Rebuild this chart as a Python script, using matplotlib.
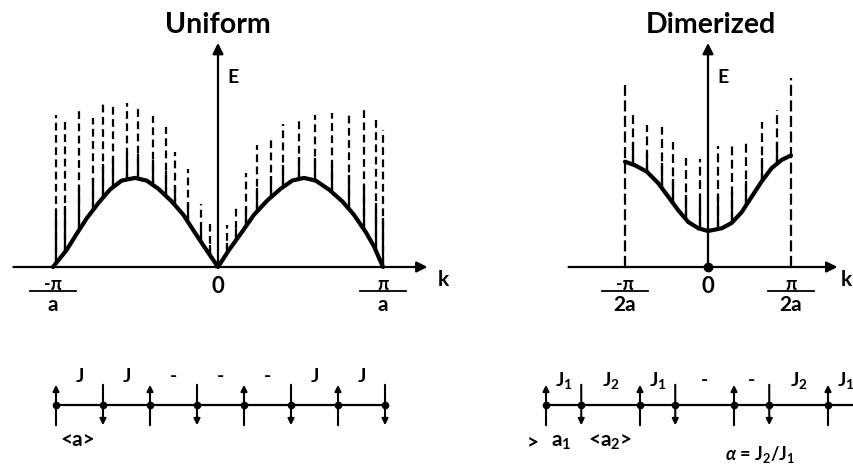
import numpy as np
import matplotlib
matplotlib.use("Agg")
import matplotlib.pyplot as plt

# ---------------- data (k in units of pi/a, E in arbitrary units) ----------------
uniform_curve_k = [-1.0, -0.917, -0.856, -0.796, -0.725, -0.655, -0.584, -0.503, -0.432,
                   -0.362, -0.281, -0.210, -0.150, -0.089, 0.0,
                   0.067, 0.138, 0.218, 0.299, 0.380, 0.450, 0.521, 0.592, 0.673,
                   0.753, 0.824, 0.895, 0.945, 1.0]
uniform_curve_E = [0.0, 0.19, 0.37, 0.54, 0.71, 0.86, 0.96, 0.99, 0.96,
                   0.87, 0.73, 0.58, 0.41, 0.24, 0.0,
                   0.19, 0.37, 0.58, 0.74, 0.87, 0.96, 0.99, 0.96, 0.86,
                   0.73, 0.58, 0.39, 0.23, 0.0]

uniform_line_k = [-0.98, -0.927, -0.842, -0.758, -0.697, -0.636, -0.552, -0.485, -0.394,
                  -0.315, -0.261, -0.182, -0.103, -0.048,
                  0.055, 0.109, 0.170, 0.236, 0.321, 0.394, 0.491, 0.588, 0.691,
                  0.794, 0.885, 0.958, 1.0]
uniform_line_low = [0.02, 0.17, 0.42, 0.63, 0.77, 0.88, 0.97, 0.99, 0.92,
                    0.80, 0.69, 0.50, 0.28, 0.12,
                    0.16, 0.29, 0.46, 0.62, 0.78, 0.89, 0.99, 0.96, 0.83,
                    0.64, 0.43, 0.19, 0.02]
uniform_line_high = [1.69, 1.61, 1.76, 1.66, 1.84, 1.82, 1.82, 1.76, 1.68,
                     1.56, 1.28, 1.09, 0.70, 0.48,
                     0.47, 0.67, 1.04, 1.36, 1.44, 1.59, 1.66, 1.69, 1.71,
                     1.72, 1.78, 1.67, 1.52]

dimer_curve_k = [-0.50, -0.44, -0.369, -0.299, -0.239, -0.179, -0.119, -0.058, 0.0,
                 0.083, 0.143, 0.203, 0.263, 0.323, 0.384, 0.444, 0.50]
dimer_curve_E = [1.17, 1.13, 1.06, 0.93, 0.78, 0.63, 0.50, 0.43, 0.40,
                 0.43, 0.49, 0.61, 0.78, 0.95, 1.10, 1.19, 1.24]

dimer_line_k = [-0.452, -0.367, -0.277, -0.211, -0.133, -0.048, 0.060, 0.145, 0.229, 0.325, 0.416]
dimer_line_low = [1.14, 1.06, 0.88, 0.71, 0.53, 0.42, 0.42, 0.50, 0.68, 0.95, 1.15]
dimer_line_high = [1.73, 1.58, 1.56, 1.39, 1.21, 1.20, 1.34, 1.34, 1.38, 1.61, 1.74]

dimer_zone_k = [-0.5, 0.5]
dimer_zone_top = [2.02, 2.10]

uniform_ticks = [-1.0, 0.0, 1.0]
uniform_tick_num = ["-π", "0", "π"]
uniform_tick_den = ["a", "", "a"]
dimer_ticks = [-0.5, 0.0, 0.5]
dimer_tick_num = ["-π", "0", "π"]
dimer_tick_den = ["2a", "", "2a"]

# spin chains (positions in units of a)
uniform_sites = [0, 1, 2, 3, 4, 5, 6, 7]
uniform_spins = [1, -1, 1, -1, 1, -1, 1, -1]
uniform_bonds = ["J", "J", "-", "-", "-", "J", "J"]

dimer_sites = [0, 0.75, 2, 2.75, 4, 4.75, 6, 6.75]
dimer_spins = [1, -1, 1, -1, 1, -1, 1, -1]
dimer_bonds = ["J$_1$", "J$_2$", "J$_1$", "-", "-", "J$_2$", "J$_1$"]

# ---------------- style ----------------
plt.rcParams['font.family'] = ['Lato', 'DejaVu Sans']
plt.rcParams['font.weight'] = 'bold'
plt.rcParams['mathtext.fontset'] = 'custom'
plt.rcParams['mathtext.rm'] = 'Lato:bold'
plt.rcParams['mathtext.it'] = 'Lato:italic:bold'
plt.rcParams['mathtext.bf'] = 'Lato:bold'

W, H = 854, 466
fig = plt.figure(figsize=(W / 100, H / 100), dpi=100)


def panel(x0, y0, sx, sy):
    """Axes spanning the figure; data origin at pixel (x0, y0 from top)."""
    ax = fig.add_axes([0, 0, 1, 1])
    ax.set_xlim(-x0 / sx, (W - x0) / sx)
    ax.set_ylim((y0 - H) / sy, y0 / sy)
    ax.axis('off')
    ax.patch.set_alpha(0)
    return ax


def arrow(ax, start, end, lw=1.6, ms=16):
    ax.annotate('', xy=end, xytext=start,
                arrowprops=dict(arrowstyle='-|>', lw=lw, color='black',
                                mutation_scale=ms, shrinkA=0, shrinkB=0))


def draw_lines(ax, ks, lows, highs, dash, frac):
    ks = np.asarray(ks); lows = np.asarray(lows); highs = np.asarray(highs)
    ax.vlines(ks, lows, highs, colors='black', lw=1.6, linestyles=[(0, dash)])
    ax.vlines(ks, lows, lows + frac * (highs - lows), colors='black', lw=1.6)


def ticklabels(ax, ticks, nums, dens, half):
    for t, n, d in zip(ticks, nums, dens):
        if d:
            ax.text(t, -0.20, n, ha='center', va='center', fontsize=13)
            ax.plot([t - half, t + half], [-0.27, -0.27], color='black', lw=1.3)
            ax.text(t, -0.42, d, ha='center', va='center', fontsize=15)
        else:
            ax.text(t, -0.22, n, ha='center', va='center', fontsize=16)


# ---------------- Uniform panel ----------------
axU = panel(218, 267, 165, 90)
draw_lines(axU, uniform_line_k, uniform_line_low, uniform_line_high, (3.5, 2.0), 0.35)
axU.plot(uniform_curve_k, uniform_curve_E, color='black', lw=3.0, solid_capstyle='round',
         solid_joinstyle='round')
arrow(axU, (-1.24, 0), (1.27, 0))
arrow(axU, (0, 0), (0, 2.49))
axU.text(0.0, 2.69, "Uniform", ha='center', va='center', fontsize=20.5)
axU.text(0.09, 2.11, "E", ha='center', va='center', fontsize=14)
axU.text(1.364, -0.14, "k", ha='center', va='center', fontsize=15)
ticklabels(axU, uniform_ticks, uniform_tick_num, uniform_tick_den, 0.14)

# ---------------- Dimerized panel ----------------
axD = panel(708, 267, 166, 90)
axD.vlines(dimer_zone_k, [0, 0], dimer_zone_top, colors='black', lw=1.6,
           linestyles=[(0, (5.0, 2.0))])
draw_lines(axD, dimer_line_k, dimer_line_low, dimer_line_high, (4.0, 2.0), 0.4)
axD.plot(dimer_curve_k, dimer_curve_E, color='black', lw=3.0, solid_capstyle='round',
         solid_joinstyle='round')
arrow(axD, (-0.84, 0), (0.78, 0))
arrow(axD, (0, 0), (0, 2.49))
axD.plot([0], [0], 'o', color='black', ms=6)
axD.text(0.02, 2.69, "Dimerized", ha='center', va='center', fontsize=20.5)
axD.text(0.09, 2.11, "E", ha='center', va='center', fontsize=14)
axD.text(0.835, -0.14, "k", ha='center', va='center', fontsize=15)
ticklabels(axD, dimer_ticks, dimer_tick_num, dimer_tick_den, 0.14)


# ---------------- chains ----------------
def chain(ax, sites, spins, bonds, label_y):
    sites = np.asarray(sites, dtype=float)
    ax.plot([sites[0], sites[-1]], [0, 0], color='black', lw=1.6)
    for s, sp in zip(sites, spins):
        arrow(ax, (s, -0.43 * sp), (s, 0.43 * sp), lw=1.5, ms=9)
    ax.plot(sites, np.zeros_like(sites), 'o', color='black', ms=4.5)
    mids = 0.5 * (sites[:-1] + sites[1:])
    for m, b in zip(mids, bonds):
        ax.text(m, label_y, b, ha='center', va='center', fontsize=14)


axCU = panel(56, 405, 47, 47)
chain(axCU, uniform_sites, uniform_spins, uniform_bonds, 0.6)
axCU.text(0.47, -0.74, "<a>", ha='center', va='center', fontsize=15)

axCD = panel(546, 405, 47, 47)
chain(axCD, dimer_sites, dimer_spins, dimer_bonds, 0.53)
axCD.text(-0.28, -0.79, ">", ha='center', va='center', fontsize=15)
axCD.text(0.33, -0.79, "a$_1$", ha='center', va='center', fontsize=15)
axCD.text(1.375, -0.79, "<a$_2$>", ha='center', va='center', fontsize=15)
axCD.text(4.55, -1.06, r"$\alpha$ = J$_2$/J$_1$", ha='center', va='center', fontsize=13)

fig.savefig("out.png", dpi=100)
